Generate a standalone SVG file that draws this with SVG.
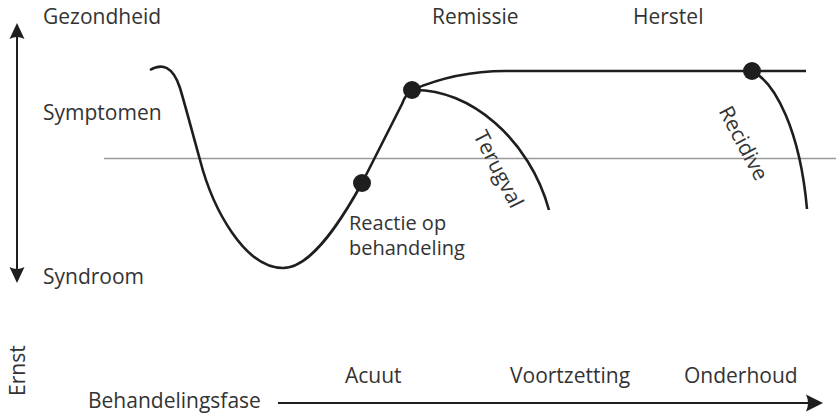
<svg xmlns="http://www.w3.org/2000/svg" width="836" height="415" viewBox="0 0 836 415">
  <style>
    .t { font-family: "Open Sans", "Noto Sans", "Liberation Sans", sans-serif; font-size: 21px; fill: #333333; }
    .s { font-size: 20px; }
    .curve { fill: none; stroke: #1e1e1e; stroke-width: 2.6; stroke-linecap: butt; }
    .axis { fill: none; stroke: #1e1e1e; stroke-width: 2; }
    .grid { fill: none; stroke: #9a9a9a; stroke-width: 1.3; }
    .dot { fill: #1e1e1e; }
    .head { fill: #1e1e1e; }
  </style>
  <rect width="836" height="415" fill="#ffffff"/>

  <g id="connectors">
    <line class="grid" x1="104" y1="158.5" x2="836" y2="158.5"/>
    <!-- main course -->
    <path class="curve" d="M150,70 C162,63 173,66 180,88 C186,108 193,135 200,160 C213,210 245,268 283,268 C308,268 335,232 362,183 L402,104 Q406,93 412,91"/>
    <!-- remission / recovery line -->
    <path class="curve" d="M412,90 C440,78 470,71 505,71 L806,71"/>
    <!-- terugval -->
    <path class="curve" d="M412,90 C470,88 530,140 549,210"/>
    <!-- recidive -->
    <path class="curve" d="M752,71 C775,82 800,130 807,209"/>
    <!-- vertical axis -->
    <line class="axis" x1="17" y1="36" x2="17" y2="270"/>
    <path class="head" d="M17,23 L24.5,39 Q17,35 9.5,39 Z"/>
    <path class="head" d="M17,283 L24.5,267 Q17,271 9.5,267 Z"/>
    <!-- horizontal axis -->
    <line class="axis" x1="278" y1="403" x2="812" y2="403"/>
    <path class="head" d="M823,403 L806,394.5 Q810,403 806,411.5 Z"/>
  </g>

  <g id="node-reactie">
    <circle class="dot" cx="362" cy="183" r="9"/>
    <text class="t s" x="349" y="230">Reactie op</text>
    <text class="t s" x="349" y="255">behandeling</text>
  </g>
  <g id="node-remissie">
    <circle class="dot" cx="412" cy="90" r="9"/>
  </g>
  <g id="node-herstel">
    <circle class="dot" cx="752" cy="71" r="9"/>
  </g>

  <g id="labels">
    <text class="t" x="43" y="24">Gezondheid</text>
    <text class="t" x="432" y="24">Remissie</text>
    <text class="t" x="633" y="24">Herstel</text>
    <text class="t" x="43" y="120">Symptomen</text>
    <text class="t" x="43" y="284">Syndroom</text>
    <text class="t" text-anchor="middle" transform="translate(497,170) rotate(63)" y="5.5">Terugval</text>
    <text class="t" text-anchor="middle" transform="translate(742,144) rotate(62)" y="5.5">Recidive</text>
    <text class="t" transform="translate(25,396) rotate(-90)">Ernst</text>
    <text class="t" x="88" y="408">Behandelingsfase</text>
    <text class="t" x="345" y="383">Acuut</text>
    <text class="t" x="510" y="383">Voortzetting</text>
    <text class="t" x="684" y="383">Onderhoud</text>
  </g>
</svg>
